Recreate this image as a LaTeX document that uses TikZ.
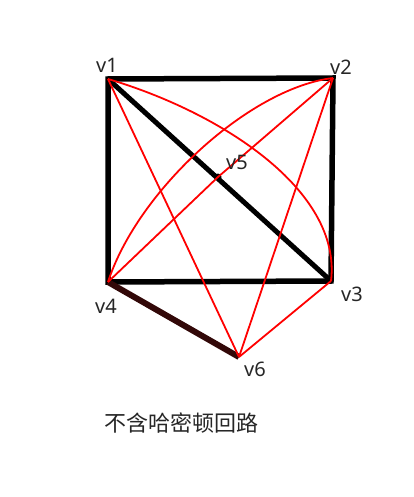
\documentclass[tikz,border=0pt]{standalone}
\usepackage{fontspec}
\setmainfont{Noto Sans}
\newfontfamily\cjk{Noto Sans CJK SC}
\begin{document}
\begin{tikzpicture}[x=1pt,y=-1pt,
  box/.style={line width=5.5pt,black},
  redline/.style={red,line width=1.8pt},
  lbl/.style={font=\fontsize{20}{22}\selectfont,text=black!85,inner sep=0pt},
  pt/.style={inner sep=0pt,minimum size=0pt}]
\useasboundingbox (0,0) rectangle (414,497);
\node[pt] (v1) at (108,79) {};
\node[pt] (v2) at (333,78) {};
\node[pt] (v3) at (331,281) {};
\node[pt] (v4) at (108,282) {};
\node[pt] (v5) at (218,177) {};
\node[pt] (v6) at (239,357) {};
% black frame
\draw[box,line join=miter] (v1.center) -- (v2.center) -- (v3.center) -- (v4.center) -- cycle;
\draw[box,line width=5pt] (v1.center) -- (v3.center);
\draw[line width=6pt,color={rgb,255:red,50;green,8;blue,8}] (v4.center) -- (v6.center);
\fill (v5) circle (3.5);
% red edges
\draw[redline] (v1.center) -- (v6.center);
\draw[redline] (v2.center) -- (v6.center);
\draw[redline] (v3.center) -- (v6.center);
\draw[redline] (v4.center) -- (v5.center) -- (v2.center);
\draw[redline] (v1.center) .. controls (220,112) and (342,190) .. (v3.center);
\draw[redline] (v2.center) .. controls (250,88) and (138,190) .. (v4.center);
% labels
\node[lbl] (l1) at (107,65) {v1};
\node[lbl] (l2) at (341,67) {v2};
\node[lbl] (l3) at (352,294) {v3};
\node[lbl] (l4) at (106,306) {v4};
\node[lbl] (l5) at (237,162) {v5};
\node[lbl] (l6) at (255,369) {v6};
\node[font=\cjk\fontsize{22}{24}\selectfont,text=black!85,inner sep=0pt,anchor=west] (cap) at (104,423) {不含哈密顿回路};
\end{tikzpicture}
\end{document}
